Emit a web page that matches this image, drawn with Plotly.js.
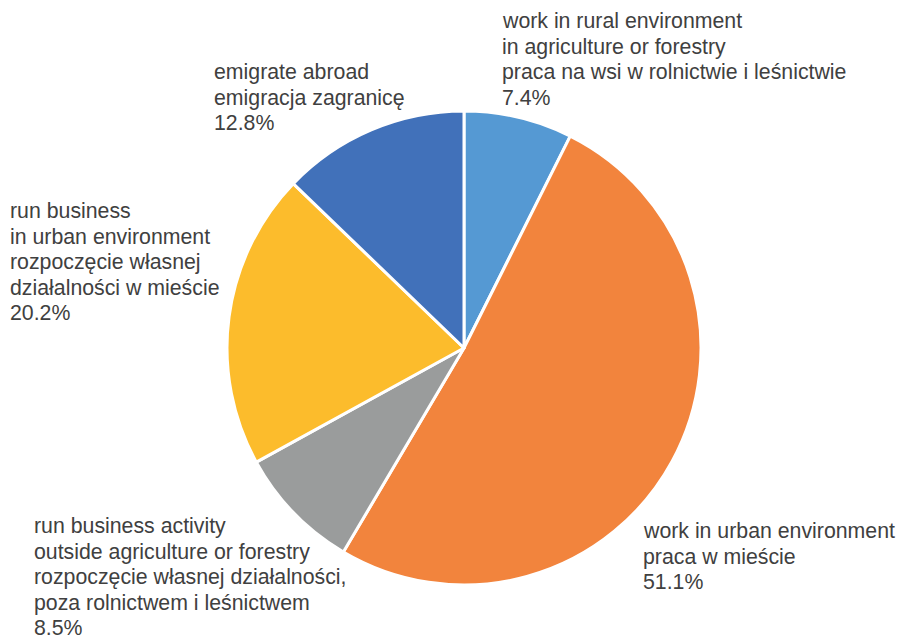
<!DOCTYPE html>
<html><head><meta charset="utf-8">
<script src="https://cdn.plot.ly/plotly-3.0.1.min.js"></script>
<style>html,body{margin:0;padding:0;background:#fff}#c{width:897px;height:637px}</style>
</head><body><div id="c"></div>
<script>
const labels = [
  "work in rural environment<br>in agriculture or forestry<br>praca na wsi w rolnictwie i leśnictwie",
  "work in urban environment<br>praca w mieście",
  "run business activity<br>outside agriculture or forestry<br>rozpoczęcie własnej działalności,<br>poza rolnictwem i leśnictwem",
  "run business<br>in urban environment<br>rozpoczęcie własnej<br>działalności w mieście",
  "emigrate abroad<br>emigracja zagranicę"
];
const values = [7.4, 51.1, 8.5, 20.2, 12.8];
const colors = ["#5599D3", "#F2843D", "#9A9C9C", "#FCBC2C", "#4171BA"];
// left x and first-line centre y of each label, in pixels
const labelPos = [[500, 21], [641, 531], [32, 526], [8, 211], [212, 72]];

const W = 897, H = 637, lineGap = 25.6;
const annotations = [];
labels.forEach((l, i) => {
  const lines = l.split("<br>").concat([values[i].toFixed(1) + "%"]);
  lines.forEach((t, j) => {
    annotations.push({
      text: t, xref: "paper", yref: "paper",
      x: labelPos[i][0] / W, y: 1 - (labelPos[i][1] + j * lineGap) / H,
      xanchor: "left", yanchor: "middle", align: "left", showarrow: false,
      font: {family: "Liberation Sans, Arial, sans-serif", size: 21.3, color: "#404040"}
    });
  });
});

const cx = 464, cy = 348, r = 237;
Plotly.newPlot("c", [{
  type: "pie", values: values, labels: labels, sort: false,
  direction: "clockwise", rotation: 0,
  marker: {colors: colors, line: {color: "#ffffff", width: 3}},
  textinfo: "none", hoverinfo: "none", showlegend: false,
  domain: {x: [(cx - r) / W, (cx + r) / W], y: [(H - cy - r) / H, (H - cy + r) / H]}
}], {
  width: W, height: H, margin: {l: 0, r: 0, t: 0, b: 0},
  paper_bgcolor: "#ffffff", showlegend: false, annotations: annotations
}, {staticPlot: true});
</script></body></html>
